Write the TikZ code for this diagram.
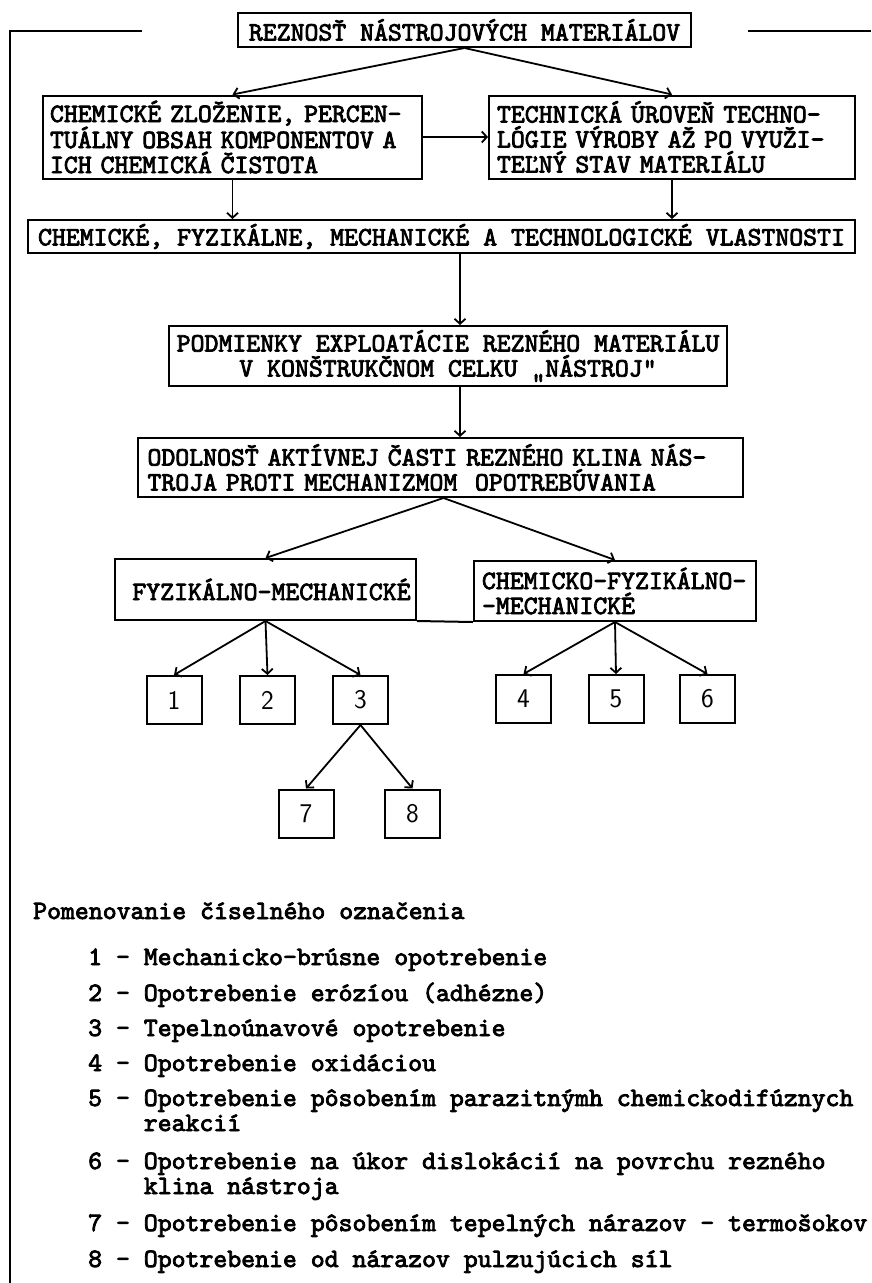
\documentclass[tikz,border=0pt]{standalone}
\usepackage{fontspec}
\setmonofont{lmmono10-regular.otf}[FakeBold=3]
\usepackage{tikz}
\usetikzlibrary{arrows.meta, positioning, calc}

\newcommand{\typewr}{\ttfamily\fontsize{26.5}{25}\selectfont}
\newcommand{\digitfont}{\sffamily\fontsize{27}{27}\selectfont}

\tikzset{
  textbox/.style={draw, line width=2pt, inner sep=0pt, font=\typewr},
  numbox/.style={draw, line width=2pt, minimum width=55pt, minimum height=48pt, inner sep=0pt, font=\digitfont},
  flow/.style={line width=1.8pt, -{Straight Barb[length=5pt, width=11pt]}},
  legendline/.style={anchor=base west, inner sep=0pt, align=left, font=\ttfamily\fontsize{26.5}{25}\selectfont},
}

\begin{document}
\begin{tikzpicture}[x=1pt, y=-1pt]
\useasboundingbox (0,0) rectangle (871,1283);

\node[textbox, minimum width=453pt, minimum height=34pt] (root) at (464.5,30) {REZNOSŤ NÁSTROJOVÝCH MATERIÁLOV};
\draw[line width=2pt] (142,31) -- (10,31) -- (10,1283);
\draw[line width=2pt] (748,31) -- (871,31);

\node[textbox, minimum width=379pt, minimum height=83pt, text width=365pt, align=left] (chem) at (232.5,137)
  {CHEMICKÉ ZLOŽENIE, PERCEN-\\TUÁLNY OBSAH KOMPONENTOV A\\ICH CHEMICKÁ ČISTOTA};
\node[textbox, minimum width=366pt, minimum height=83pt, text width=350pt, align=left] (tech) at (672,137)
  {TECHNICKÁ ÚROVEŇ TECHNO-\\LÓGIE VÝROBY AŽ PO VYUŽI-\\TEĽNÝ STAV MATERIÁLU};
\node[textbox, minimum width=827pt, minimum height=33pt] (props) at (441.5,236.5)
  {CHEMICKÉ, FYZIKÁLNE, MECHANICKÉ A TECHNOLOGICKÉ VLASTNOSTI};
\node[textbox, minimum width=558pt, minimum height=60pt, align=center] (cond) at (448,356)
  {PODMIENKY EXPLOATÁCIE REZNÉHO MATERIÁLU\\V KONŠTRUKČNOM CELKU „NÁSTROJ“};
\node[textbox, minimum width=605pt, minimum height=59pt, text width=586pt, align=left] (resist) at (440.5,467.5)
  {ODOLNOSŤ AKTÍVNEJ ČASTI REZNÉHO KLINA NÁS-\\TROJA PROTI MECHANIZMOM\ \ OPOTREBÚVANIA};
\node[textbox, minimum width=301pt, minimum height=61pt] (phys) at (265.5,589.5) {\hspace{12pt}FYZIKÁLNO-MECHANICKÉ};
\node[textbox, minimum width=282pt, minimum height=60pt, text width=266pt, align=left] (chphys) at (615,591)
  {CHEMICKO-FYZIKÁLNO-\\-MECHANICKÉ};

\node[numbox] (n1) at (174,700) {1};
\node[numbox] (n2) at (267.5,700) {2};
\node[numbox] (n3) at (360.5,700) {3};
\node[numbox] (n4) at (523.5,699) {4};
\node[numbox] (n5) at (616,699) {5};
\node[numbox] (n6) at (707.5,699) {6};
\node[numbox] (n7) at (306,813.5) {7};
\node[numbox] (n8) at (412.5,813.5) {8};

\coordinate (spine) at (460,0);
\draw[flow] (root.south) -- (chem.north);
\draw[flow] (root.south) -- (tech.north);
\draw[flow] (chem.east) -- (tech.west);
\draw[flow] (chem.south) -- (chem.south |- props.north);
\draw[flow] (tech.south) -- (tech.south |- props.north);
\draw[flow] (props.south -| spine) -- (cond.north -| spine);
\draw[flow] (cond.south -| spine) -- (resist.north -| spine);
\draw[flow] ([xshift=3pt]resist.south) -- (phys.north);
\draw[flow] ([xshift=3pt]resist.south) -- (chphys.north);
\draw[line width=2pt] (phys.south east) -- (chphys.south west);
\foreach \k in {n1,n2,n3}
  \draw[flow] (phys.south) -- (\k.north);
\foreach \k in {n4,n5,n6}
  \draw[flow] (chphys.south) -- (\k.north);
\draw[flow] (n3.south) -- (n7.north);
\draw[flow] (n3.south) -- (n8.north);

% two-line entries sit on the baseline of their last line
\node[legendline] (legend) at (33,919) {Pomenovanie číselného označenia};
\node[legendline] (d1) at (88,965) {1 - Mechanicko-brúsne opotrebenie};
\node[legendline] (d2) at (88,1001) {2 - Opotrebenie erózíou (adhézne)};
\node[legendline] (d3) at (88,1036) {3 - Tepelnoúnavové opotrebenie};
\node[legendline] (d4) at (88,1071) {4 - Opotrebenie oxidáciou};
\node[legendline] (d5) at (88,1131) {5 - Opotrebenie pôsobením parazitnýmh chemickodifúznych\\\phantom{5 - }reakcií};
\node[legendline] (d6) at (88,1194) {6 - Opotrebenie na úkor dislokácií na povrchu rezného\\\phantom{6 - }klina nástroja};
\node[legendline] (d7) at (88,1231) {7 - Opotrebenie pôsobením tepelných nárazov - termošokov};
\node[legendline] (d8) at (88,1267) {8 - Opotrebenie od nárazov pulzujúcich síl};
\end{tikzpicture}
\end{document}
